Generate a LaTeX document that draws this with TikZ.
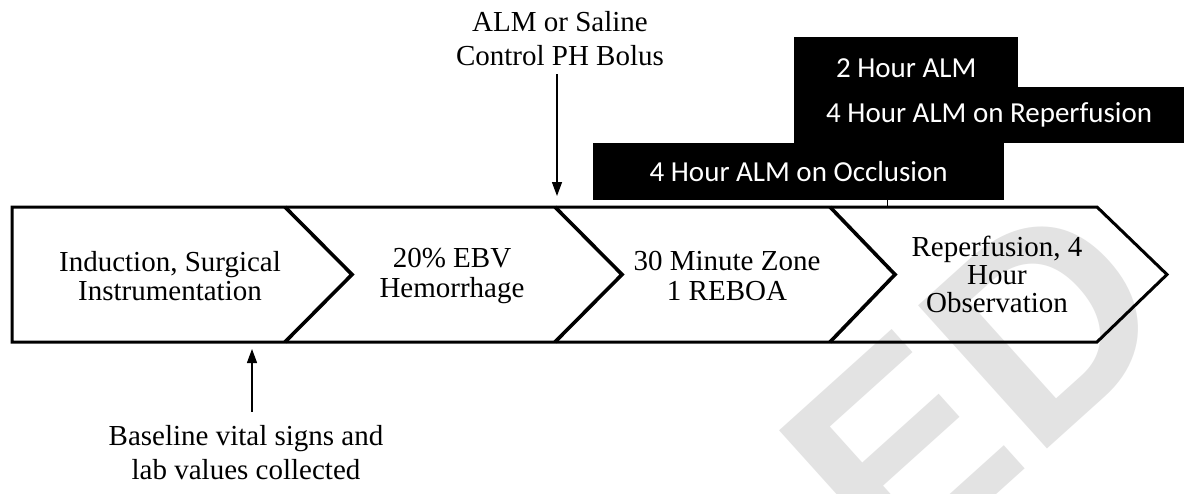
\documentclass[tikz,border=0pt]{standalone}
\usepackage{fontspec}
\setmainfont{Liberation Serif}
\newfontfamily\boxfont{Carlito}
\newfontfamily\wmfont{Liberation Sans}
\usetikzlibrary{arrows.meta}
\definecolor{wmgray}{HTML}{E3E3E3}
\begin{document}
\begin{tikzpicture}[x=1pt,y=-1pt,
  seglabel/.style={align=center,font=\fontsize{29}{29.5}\selectfont,inner sep=0pt},
  note/.style={align=center,font=\fontsize{29}{34}\selectfont,inner sep=0pt},
  bar/.style={fill=black,text=white,font=\boxfont\fontsize{29}{30}\selectfont,inner sep=0pt,anchor=north west},
  outline/.style={line width=3pt,line join=miter},
  chev/.style={line width=3.6pt,line join=miter},
  pointer/.style={line width=1.3pt,-{Triangle[length=14pt,width=10pt]}}]
\useasboundingbox (0,0) rectangle (1184,493);
\fill[white] (0,0) rectangle (1184,493);
% watermark
\node[rotate=42,text=wmgray,font=\wmfont\bfseries\fontsize{280}{280}\selectfont,inner sep=0pt] (wm) at (975,385) {ED};
% black bars
\node[bar,minimum width=224pt,minimum height=62pt] (b2h) at (794,37) {2 Hour ALM};
\node[bar,minimum width=390pt,minimum height=56pt] (b4r) at (794,87) {4 Hour ALM on Reperfusion};
\node[bar,minimum width=411pt,minimum height=57pt] (b4o) at (593,143) {4 Hour ALM on Occlusion};
% timeline
\draw[outline] (12,207) -- (1097,207) -- (1167,274.5) -- (1097,342) -- (12,342) -- cycle;
\draw[chev] (285,207) -- (352,274.5) -- (285,342);
\draw[chev] (555,207) -- (622,274.5) -- (555,342);
\draw[chev] (830,207) -- (895,274.5) -- (830,342);
\coordinate (tick) at (887,207);
\draw[line width=1pt] (b4o.south -| tick) -- (tick);
% segment labels
\node[seglabel] (s1) at (170,276) {Induction, Surgical\\Instrumentation};
\node[seglabel] (s2) at (452,276) {20\% EBV\\Hemorrhage};
\node[seglabel] (s3) at (727,276) {30 Minute Zone\\1 REBOA};
\node[seglabel,font=\fontsize{29}{28}\selectfont] (s4) at (997,274) {Reperfusion, 4\\Hour\\Observation};
% notes and arrows
\node[note] (bolus) at (560,39) {ALM or Saline\\Control PH Bolus};
\coordinate (bolusend) at (557,196);
\draw[pointer,shorten <=8pt] (bolus.south -| bolusend) -- (bolusend);
\node[note] (base) at (246,453) {Baseline vital signs and\\lab values collected};
\coordinate (baseend) at (252,349);
\draw[pointer,shorten <=14pt] (base.north -| baseend) -- (baseend);
\end{tikzpicture}
\end{document}
